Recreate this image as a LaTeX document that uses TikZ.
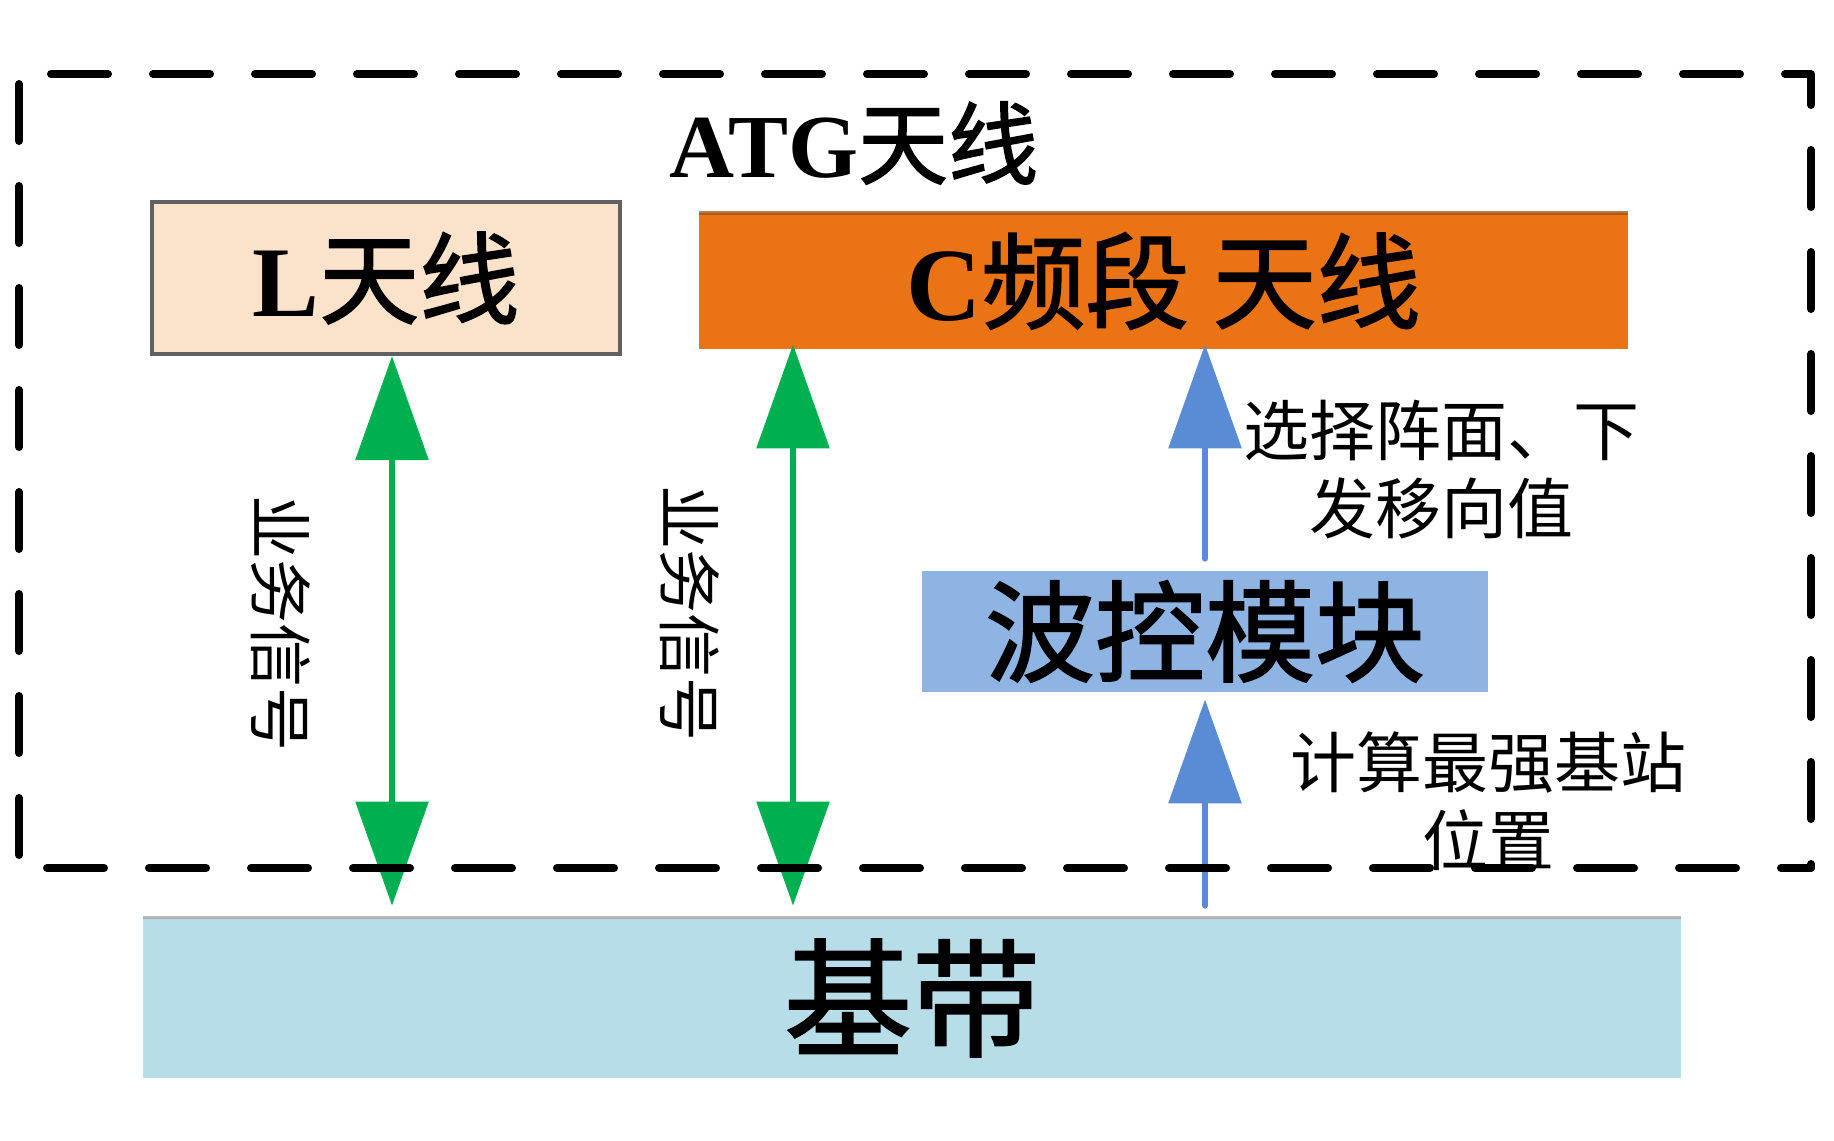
\documentclass[tikz,border=0pt]{standalone}
\usepackage{fontspec}
\setmainfont{Liberation Serif}
\newfontfamily\cjk{Noto Sans CJK SC}
\newfontfamily\cjkb[FakeBold=1.6]{Noto Sans CJK SC}
\usetikzlibrary{arrows.meta}
\definecolor{peach}{HTML}{FBE3CB}
\definecolor{corange}{HTML}{EA7414}
\definecolor{cshade}{HTML}{9A5018}
\definecolor{wblue}{HTML}{8EB4E3}
\definecolor{bbblue}{HTML}{B7DDE8}
\definecolor{agreen}{HTML}{00B050}
\definecolor{ablue}{HTML}{5A8BD5}
\tikzset{
  boxnode/.style={inner sep=0pt, anchor=center},
  garrow/.style={draw=agreen, line width=3pt, {Triangle[width=36pt,length=52pt,fill=agreen]}-{Triangle[width=36pt,length=52pt,fill=agreen]}},
  barrow/.style={draw=ablue, line width=3pt, line cap=round, -{Triangle[width=36pt,length=52pt,fill=ablue]}},
  smalltxt/.style={font=\cjk\fontsize{33pt}{39pt}\selectfont, align=center, inner sep=0pt},
  vtxt/.style={font=\cjk\fontsize{32pt}{36pt}\selectfont, rotate=-90, inner sep=0pt},
  outer/.style={draw=black, line width=4pt, line cap=round, line join=round,
                dash pattern=on 28.5pt off 22.5pt}
}
\begin{document}
\begin{tikzpicture}[x=0.5pt,y=-0.5pt]
\useasboundingbox (0,0) rectangle (1834,1140);
% boxes
\node[boxnode, fill=peach, draw=black!62, line width=2pt, minimum width=234pt, minimum height=76pt,
      font=\fontsize{50pt}{50pt}\selectfont] (L) at (386,278) {{\bfseries L}\cjkb 天线};
\node[boxnode, fill=corange, minimum width=464.5pt, minimum height=68pt,
      font=\fontsize{52pt}{52pt}\selectfont] (C) at (1163.5,281) {{\bfseries C}\cjkb 频段 天线};
\draw[cshade, line width=2pt, opacity=0.75] (C.north west) -- (C.north east);
\node[boxnode, fill=wblue, minimum width=283pt, minimum height=60.5pt,
      font=\cjkb\fontsize{55pt}{55pt}\selectfont] (W) at (1205,631.5) {波控模块};
\node[boxnode, fill=bbblue, minimum width=769pt, minimum height=80pt,
      font=\cjkb\fontsize{64pt}{64pt}\selectfont] (BB) at (912,998) {基带};
\draw[black!45, line width=1.5pt, opacity=0.6] (BB.north west) -- (BB.north east);
% title
\node[inner sep=0pt, font=\fontsize{45pt}{45pt}\selectfont] (title) at (854,143) {{\bfseries ATG}\cjkb 天线};
% labels
\node[vtxt] (v1) at (281,623) {业务信号};
\node[vtxt] (v2) at (690,613) {业务信号};
\node[smalltxt] (t1) at (1441,470) {选择阵面、下\\发移向值};
\node[smalltxt] (t2) at (1488,801) {计算最强基站\\位置};
% arrows
\coordinate (g1) at (392,0);
\coordinate (g2) at (793,0);
\draw[garrow, shorten >=6pt] (g1 |- L.south) -- (g1 |- BB.north);
\draw[garrow, shorten >=6pt, shorten <=-2.5pt] (g2 |- C.south) -- (g2 |- BB.north);
\draw[barrow, shorten <=6pt, shorten >=-2.5pt] (W.north) -- (W.north |- C.south);
\draw[barrow, shorten <=6pt, shorten >=3.5pt] (W.south |- BB.north) -- (W.south);
% outer dashed frame
\coordinate (fa) at (19,74);
\coordinate (fb) at (1811,868);
\draw[outer, dash phase=35pt] (fa) -- (fa -| fb) -- (fb);
\draw[outer, dash phase=13.5pt] (fb) -- (fb -| fa);
\draw[outer, dash phase=46pt] (fa) -- (fb -| fa);
\end{tikzpicture}
\end{document}
